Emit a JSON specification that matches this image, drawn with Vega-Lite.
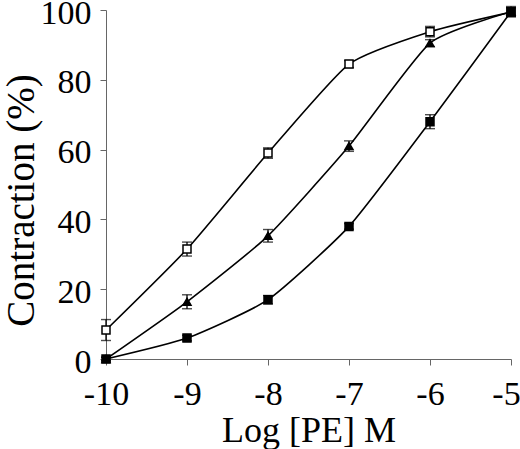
{
  "$schema": "https://vega.github.io/schema/vega-lite/v6.json",
  "width": 405,
  "height": 349,
  "autosize": "none",
  "padding": {"left": 106, "top": 10, "right": 9, "bottom": 90},
  "background": "white",
  "data": {
    "values": [
      {"series": "open", "logPE": -10, "contraction": 8.3, "err": 3},
      {"series": "open", "logPE": -9, "contraction": 31.5, "err": 2},
      {"series": "open", "logPE": -8, "contraction": 59, "err": 1.5},
      {"series": "open", "logPE": -7, "contraction": 84.5, "err": 1},
      {"series": "open", "logPE": -6, "contraction": 93.8, "err": 1.5},
      {"series": "open", "logPE": -5, "contraction": 99.4, "err": 1.2},
      {"series": "triangle", "logPE": -10, "contraction": 0, "err": 0.5},
      {"series": "triangle", "logPE": -9, "contraction": 16.4, "err": 2},
      {"series": "triangle", "logPE": -8, "contraction": 35.3, "err": 1.8},
      {"series": "triangle", "logPE": -7, "contraction": 61, "err": 1.5},
      {"series": "triangle", "logPE": -6, "contraction": 90.5, "err": 1},
      {"series": "triangle", "logPE": -5, "contraction": 99.5, "err": 1.2},
      {"series": "filled", "logPE": -10, "contraction": 0, "err": 0.5},
      {"series": "filled", "logPE": -9, "contraction": 6, "err": 0.8},
      {"series": "filled", "logPE": -8, "contraction": 17, "err": 1.2},
      {"series": "filled", "logPE": -7, "contraction": 38, "err": 0.8},
      {"series": "filled", "logPE": -6, "contraction": 68, "err": 2},
      {"series": "filled", "logPE": -5, "contraction": 99.5, "err": 1.5}
    ]
  },
  "layer": [
    {
      "mark": {"type": "line", "interpolate": "cardinal", "tension": 0.45, "color": "black", "strokeWidth": 1.6},
      "encoding": {
        "x": {"field": "logPE", "type": "quantitative"},
        "y": {"field": "contraction", "type": "quantitative"},
        "detail": {"field": "series"}
      }
    },
    {
      "mark": {
        "type": "errorbar",
        "color": "black",
        "rule": {"strokeWidth": 1.3},
        "ticks": {"size": 10, "thickness": 1.4}
      },
      "encoding": {
        "x": {"field": "logPE", "type": "quantitative"},
        "y": {"field": "contraction", "type": "quantitative"},
        "yError": {"field": "err"}
      }
    },
    {
      "mark": {"type": "point", "stroke": "black", "strokeWidth": 1.5, "opacity": 1, "filled": false},
      "encoding": {
        "x": {"field": "logPE", "type": "quantitative"},
        "y": {"field": "contraction", "type": "quantitative"},
        "shape": {
          "field": "series",
          "type": "nominal",
          "scale": {"domain": ["open", "triangle", "filled"], "range": ["square", "triangle-up", "square"]},
          "legend": null
        },
        "fill": {
          "field": "series",
          "type": "nominal",
          "scale": {"domain": ["open", "triangle", "filled"], "range": ["white", "black", "black"]},
          "legend": null
        },
        "size": {"value": 64}
      }
    }
  ],
  "encoding": {
    "x": {
      "field": "logPE",
      "type": "quantitative",
      "title": "Log [PE] M",
      "scale": {"domain": [-10, -5], "nice": false, "zero": false},
      "axis": {
        "values": [-10, -9, -8, -7, -6, -5],
        "labelExpr": "'-' + abs(datum.value)",
        "labelPadding": 12,
        "labelOffset": {"condition": {"test": "datum.value == -5", "value": -5}, "value": 0},
        "titleFontSize": 36,
        "titleBaseline": "alphabetic",
        "titleY": 82
      }
    },
    "y": {
      "field": "contraction",
      "type": "quantitative",
      "title": "Contraction (%)",
      "scale": {"domain": [0, 100], "nice": false},
      "axis": {
        "values": [0, 20, 40, 60, 80, 100],
        "labelPadding": 9,
        "labelOffset": 3,
        "titleFontSize": 39,
        "titleBaseline": "alphabetic",
        "titleAngle": 270,
        "titleX": -73,
        "titleY": 190,
        "titleAlign": "center"
      }
    }
  },
  "config": {
    "view": {"stroke": null},
    "axis": {
      "grid": false,
      "domainColor": "#666",
      "tickColor": "#666",
      "tickSize": 6,
      "labelFont": "Liberation Serif",
      "labelFontSize": 34,
      "labelColor": "black",
      "titleFont": "Liberation Serif",
      "titleFontWeight": "normal",
      "titleColor": "black",
      "labelOverlap": false,
      "labelFlush": false
    }
  }
}
